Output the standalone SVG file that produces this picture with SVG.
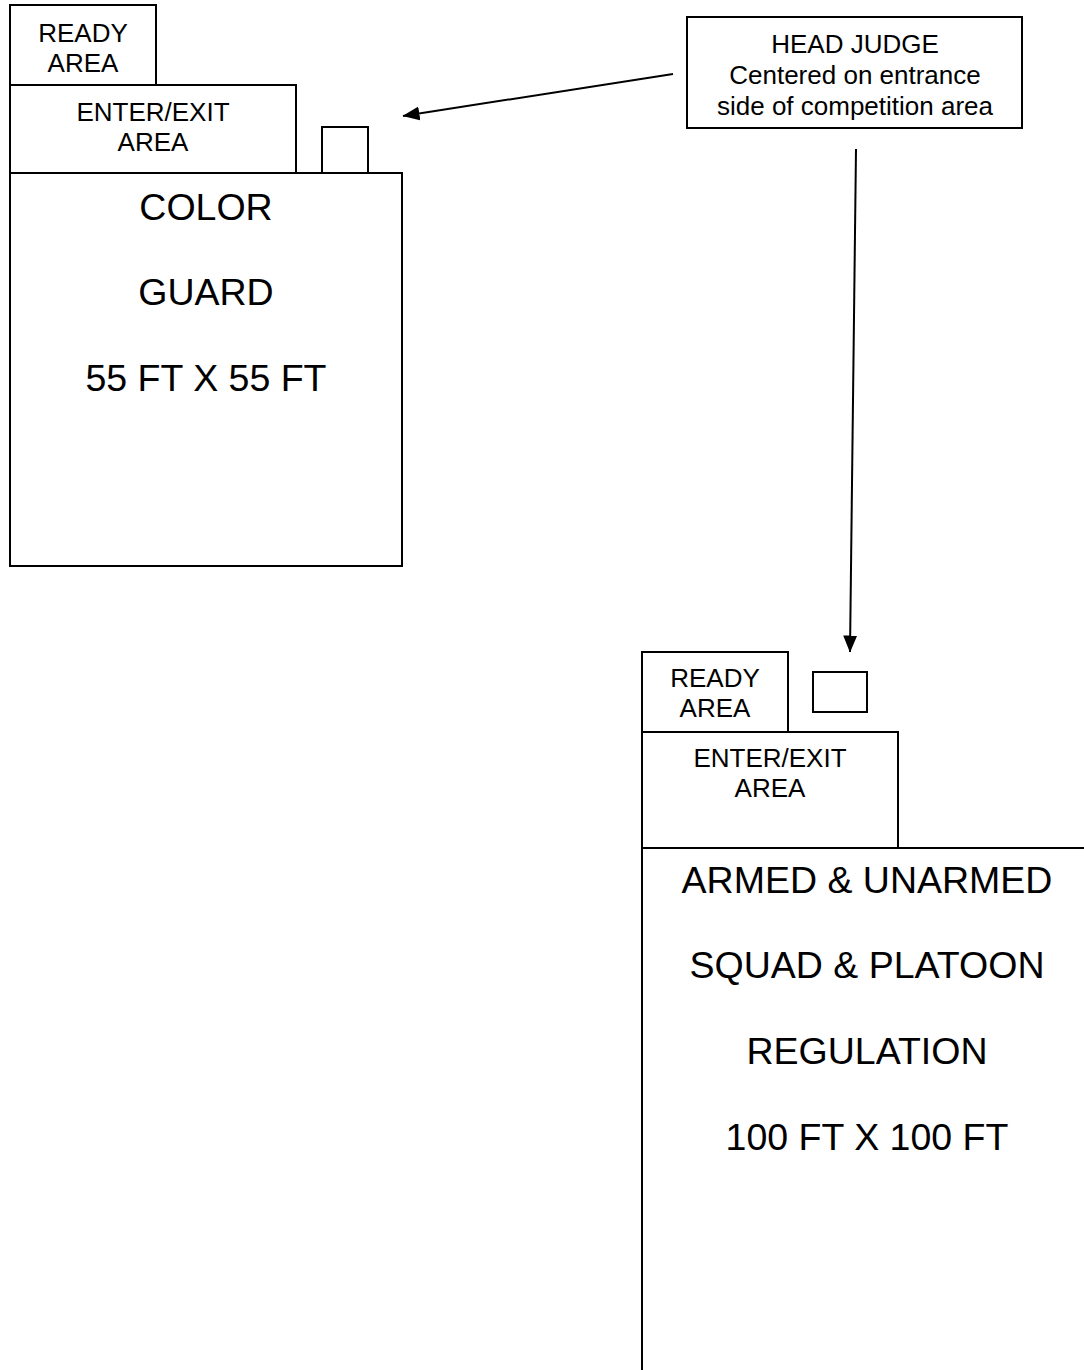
<svg xmlns="http://www.w3.org/2000/svg" width="1084" height="1370" viewBox="0 0 1084 1370">
<style>
.b{fill:#fff;stroke:#000;stroke-width:2}
.s{font-family:"Liberation Sans",Arial,sans-serif;font-size:26px;fill:#000;text-anchor:middle}
.l{font-family:"Liberation Sans",Arial,sans-serif;font-size:37.5px;fill:#000;text-anchor:middle}
.c{stroke:#000;stroke-width:2;fill:none}
</style>
<defs>
<marker id="ah" markerWidth="9" markerHeight="8" refX="8.5" refY="4" orient="auto" markerUnits="userSpaceOnUse" viewBox="0 0 9 8">
<path d="M0,0 L9,4 L0,8 z" fill="#000"/>
</marker>
<marker id="ah2" markerWidth="17" markerHeight="14" refX="16.5" refY="7" orient="auto" markerUnits="userSpaceOnUse" viewBox="0 0 17 14">
<path d="M0,0 L17,7 L0,14 z" fill="#000"/>
</marker>
</defs>
<rect width="1084" height="1370" fill="#fff"/>
<g id="left-ready"><rect class="b" x="10" y="5" width="146" height="80"/><text class="s" x="83" y="42">READY</text><text class="s" x="83" y="72">AREA</text></g>
<g id="left-enter"><rect class="b" x="10" y="85" width="286" height="88"/><text class="s" x="153" y="121">ENTER/EXIT</text><text class="s" x="153" y="151">AREA</text></g>
<g id="left-judge"><rect class="b" x="322" y="127" width="46" height="46"/></g>
<g id="left-main"><rect class="b" x="10" y="173" width="392" height="393"/><text class="l" x="206" y="220">COLOR</text><text class="l" x="206" y="305">GUARD</text><text class="l" x="206" y="391">55 FT X 55 FT</text></g>
<g id="head-judge"><rect class="b" x="687" y="17" width="335" height="111"/><text class="s" x="855" y="53">HEAD JUDGE</text><text class="s" x="855" y="84">Centered on entrance</text><text class="s" x="855" y="115">side of competition area</text></g>
<g id="right-ready"><rect class="b" x="642" y="652" width="146" height="80"/><text class="s" x="715" y="687">READY</text><text class="s" x="715" y="717">AREA</text></g>
<g id="right-enter"><rect class="b" x="642" y="732" width="256" height="116"/><text class="s" x="770" y="767">ENTER/EXIT</text><text class="s" x="770" y="797">AREA</text></g>
<g id="right-judge"><rect class="b" x="813" y="672" width="54" height="40"/></g>
<g id="right-main"><path class="c" d="M642,1372 V848 H1086"/><text class="l" x="867" y="893">ARMED &amp; UNARMED</text><text class="l" x="867" y="978">SQUAD &amp; PLATOON</text><text class="l" x="867" y="1064">REGULATION</text><text class="l" x="867" y="1150">100 FT X 100 FT</text></g>
<g id="connectors">
<line class="c" x1="673" y1="74" x2="403" y2="116" marker-end="url(#ah2)"/>
<line class="c" x1="856" y1="149" x2="850" y2="652" marker-end="url(#ah2)"/>
</g>
</svg>
